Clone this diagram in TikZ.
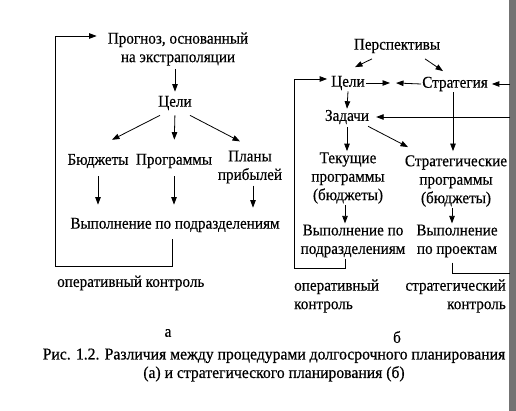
\documentclass[tikz,border=0pt]{standalone}
\usepackage{fontspec}
\setmainfont{Liberation Serif}[FakeStretch=0.92, FakeBold=0.4]
\newfontfamily\capfont{Liberation Serif}[FakeStretch=0.95, FakeBold=0.6]
\usetikzlibrary{arrows.meta}
\begin{document}
\begin{tikzpicture}[x=1pt,y=-1pt,
  lbl/.style={inner sep=1pt, font=\fontsize{16.5}{18.5}\selectfont, align=center},
  arr/.style={-{Triangle[length=7.5pt,width=5.5pt]}, line width=0.8pt},
  ln/.style={line width=0.8pt}]
\useasboundingbox (0,0) rectangle (516,411);
\fill[black!55] (509,0) rectangle (516,411);

% ---------- (a) ----------
\node[lbl] (prog)  at (178,49)  {Прогноз, основанный\\на экстраполяции};
\node[lbl] (celiA) at (175,103) {Цели};
\node[lbl] (budg)  at (98,161)  {Бюджеты};
\node[lbl] (progr) at (174,161) {Программы};
\node[lbl] (plany) at (250,167) {Планы\\прибылей};
\node[lbl] (vypA)  at (175,225) {Выполнение по подразделениям};
\node[lbl, anchor=west] (opA) at (56,283) {оперативный контроль};
\node[lbl] (la) at (168,333) {а};

\coordinate (fbA)  at (55,266);
\coordinate (fbAt) at (55,36);

\draw[arr, shorten <=2pt, shorten >=3pt] (celiA.north |- prog.south) -- (celiA.north);
\draw[arr] ([shift={(-15,4)}]celiA.south) -- ([shift={(14,-13)}]budg.north);
\draw[arr, shorten <=4pt, shorten >=13pt] (celiA.south) -- (progr.north);
\draw[arr] ([shift={(15,4)}]celiA.south) -- ([shift={(-10,-8)}]plany.north);
\draw[arr, shorten <=7pt, shorten >=12pt] (budg.south) -- (budg.south |- vypA.north);
\draw[arr, shorten <=7pt, shorten >=12pt] (progr.south) -- (progr.south |- vypA.north);
\draw[arr, shorten <=1pt, shorten >=9pt] ([xshift=3pt]plany.south) -- ([xshift=3pt]plany.south |- vypA.north);
\draw[arr, shorten >=10pt] ([shift={(-3,6)}]vypA.south) |- (fbA) -- (fbAt) -- (fbAt -| prog.west);

% ---------- (b) ----------
\node[lbl] (persp) at (397,46)  {Перспективы};
\node[lbl] (celiB) at (348,83)  {Цели};
\node[lbl] (strat) at (455,84)  {Стратегия};
\node[lbl] (zad)   at (347,117) {Задачи};
\node[lbl] (tek)   at (348,178) {Текущие\\программы\\(бюджеты)};
\node[lbl] (strP)  at (456,181) {Стратегические\\программы\\(бюджеты)};
\node[lbl] (vypB)  at (353,241) {Выполнение по\\подразделениям};
\node[lbl] (vypP)  at (457,241) {Выполнение\\по проектам};
\node[lbl, anchor=west, align=left] (opB) at (293,296) {оперативный\\контроль};
\node[lbl, anchor=east, align=right] (stK) at (507,296) {стратегический\\контроль};
\node[lbl] (lb) at (397,337) {б};

\coordinate (mL)   at (390,83);
\coordinate (mR)   at (396,83);
\coordinate (rS)   at (510,84);
\coordinate (rZ)   at (510,117);
\coordinate (fbB)  at (294,268);
\coordinate (fbBt) at (294,79);
\coordinate (fbP)  at (510,273);

\draw[arr] ([shift={(-25,4.5)}]persp.south) -- ([shift={(7,-7.5)}]celiB.north);
\draw[arr] ([shift={(28,4.5)}]persp.south) -- ([shift={(-12,-4.5)}]strat.north);
\draw[arr] (celiB.east) -- (mL);
\draw[arr] (strat.west) -- (mR);
\draw[arr, shorten >=3pt] (rS) -- (strat.east);
\draw[arr, shorten >=6pt] (rZ) -- (zad.east);
\draw[arr] (celiB.south) -- (zad.north);
\draw[arr, shorten >=3pt] ([shift={(-8,0)}]vypB.south) |- (fbB) -- (fbBt) -- (fbBt -| celiB.west);
\draw[arr] ([shift={(0,2)}]zad.south) -- (zad.south |- tek.north);
\draw[arr] ([shift={(21,1)}]zad.south) -- ([shift={(-48,-7)}]strP.north);
\draw[arr, shorten >=3pt] ([xshift=-2pt]strat.south) -- ([xshift=-2pt]strat.south |- strP.north);
\draw[arr] ([xshift=-3pt]tek.south) -- ([xshift=-3pt]tek.south |- vypB.north);
\draw[arr] ([xshift=-4pt]strP.south) -- ([xshift=-4pt]strP.south |- vypP.north);
\draw[ln] ([shift={(-5,4)}]vypP.south) |- (fbP);

% ---------- caption ----------
\node[lbl, font=\capfont\fontsize{16.5}{18.5}\selectfont] (cap) at (274,365) {Рис. 1.2. Различия между процедурами долгосрочного планирования\\(а) и стратегического планирования (б)};
\end{tikzpicture}
\end{document}
